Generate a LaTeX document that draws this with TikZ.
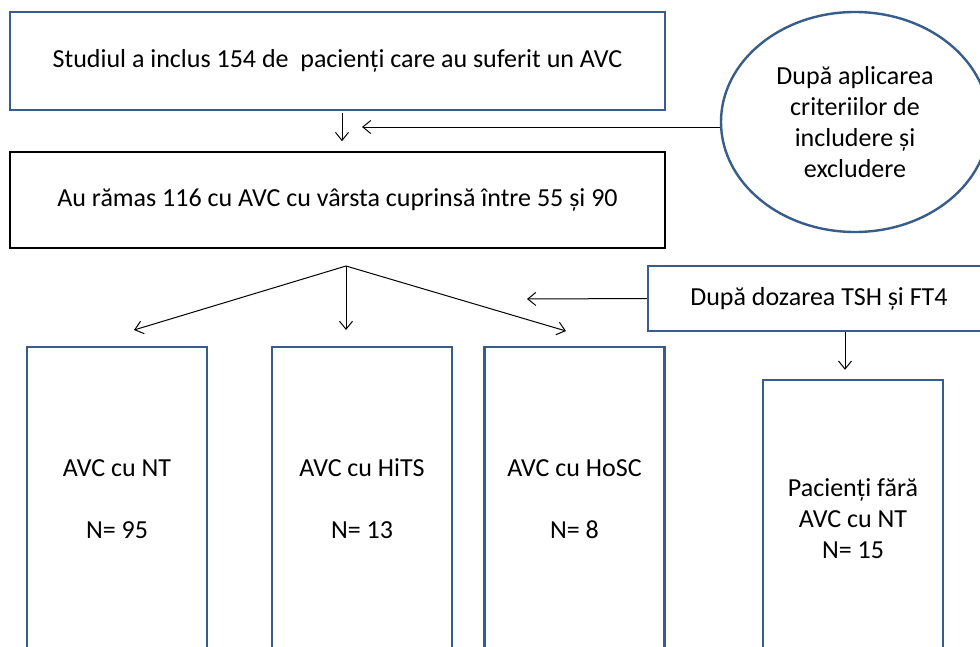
\documentclass[tikz,border=0pt]{standalone}
\usepackage{fontspec}
\setmainfont{Carlito}
\usetikzlibrary{arrows.meta,shapes.geometric}
\definecolor{obl}{RGB}{56,93,138}
\begin{document}
\begin{tikzpicture}[x=1pt,y=-1pt,
  txt/.style={font=\fontsize{26}{31}\selectfont, align=center, inner sep=0pt},
  bluebox/.style={txt, draw=obl, line width=2.4pt, rectangle},
  blackbox/.style={txt, draw=black, line width=1.6pt, rectangle},
  arr/.style={draw=black, line width=1pt, -{Straight Barb[length=8pt,width=13pt,line width=1pt]}}]
\useasboundingbox (0,0) rectangle (980,646);
\clip (0,0) rectangle (980,646);
\fill[white] (0,0) rectangle (980,646);
% top boxes
\node[bluebox, minimum width=655pt, minimum height=98pt] (b1) at (337.5,61)
  {\raisebox{-3pt}{Studiul a inclus 154 de \ pacienți care au suferit un AVC}};
\node[blackbox, minimum width=655pt, minimum height=96pt] (b2) at (337.5,200)
  {\raisebox{-3pt}{Au rămas 116 cu AVC cu vârsta cuprinsă între 55 și 90}};
\node[draw=obl, line width=2.4pt, ellipse, minimum width=268pt, minimum height=220pt, txt] (ell) at (855,122)
  {După aplicarea\\criteriilor de\\includere și\\excludere};
\node[bluebox, minimum width=342pt, minimum height=65pt] (doz) at (819,298.5)
  {După dozarea TSH și FT4};
% bottom boxes
\node[bluebox, minimum width=180pt, minimum height=304pt] (nt) at (117,499)
  {AVC cu NT\\[31pt]N= 95};
\node[bluebox, minimum width=180pt, minimum height=304pt] (hits) at (362,499)
  {AVC cu HiTS\\[31pt]N= 13};
\node[bluebox, minimum width=180pt, minimum height=304pt] (hosc) at (574.5,499)
  {AVC cu HoSC\\[31pt]N= 8};
\node[bluebox, minimum width=180pt, minimum height=278pt] (pac) at (853,519)
  {Pacienți fără\\AVC cu NT\\N= 15};
% connectors
\coordinate (c1) at (362,127);
\coordinate (apex) at (346,266);
\coordinate (tl) at (134,330);
\coordinate (tm) at (346,330);
\coordinate (tr) at (566,331);
\coordinate (c2) at (527,299);
\draw[arr] ([xshift=4.5pt,yshift=-2pt]b1.south) -- ([xshift=4.5pt,yshift=10pt]b2.north);
\draw[arr] (ell.west |- c1) -- (c1);
\draw[arr] (apex) -- (tl);
\draw[arr] (apex) -- (tm);
\draw[arr] (apex) -- (tr);
\draw[arr] (doz.west) -- (c2);
\draw[arr] ([xshift=26pt]doz.south) -- ([xshift=-8pt,yshift=9pt]pac.north);
\end{tikzpicture}
\end{document}
